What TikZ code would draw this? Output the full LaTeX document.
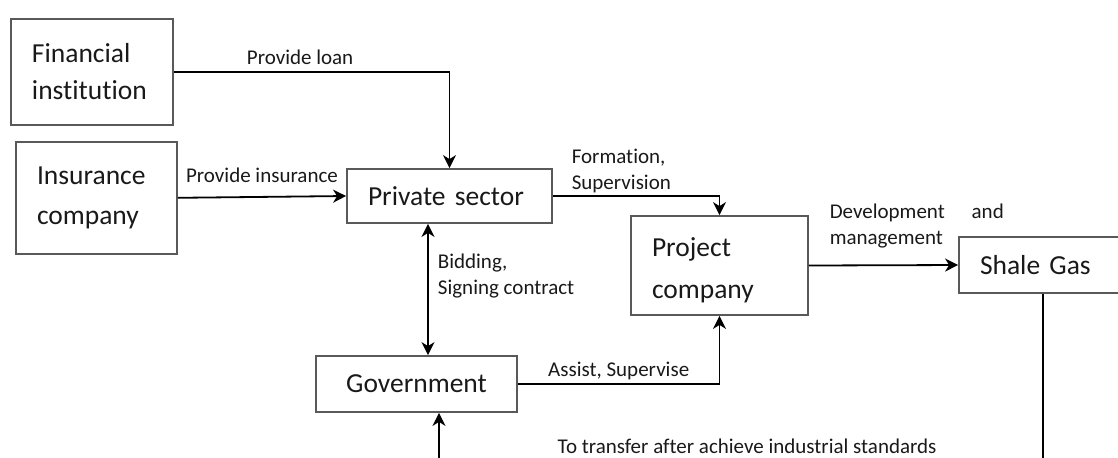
\documentclass[tikz,border=0pt]{standalone}
\usepackage{fontspec}
\setmainfont{Carlito}[Ligatures=NoCommon]
\usepackage{tikz}
\usetikzlibrary{arrows.meta, positioning}

\begin{document}
\begin{tikzpicture}[x=0.5pt, y=-0.5pt,
    box/.style={draw=black!65, line width=0.9pt, align=left, inner ysep=0pt, inner xsep=10.5pt, font=\fontsize{13.75}{18.5}\selectfont, text=black!90},
    lbl/.style={inner sep=0pt, align=left, font=\fontsize{10.5}{13}\selectfont, text=black!90},
    >={Stealth[length=6.5pt, width=6.5pt, inset=2pt]}, line width=0.9pt]
  \useasboundingbox (0,0) rectangle (1118,457);
  \clip (0,0) rectangle (1118,457);
  \node[box, text width=60pt, minimum height=53pt, yshift=-0.5pt] (finance) at (92,71) {Financial\\institution};
  \node[box, text width=59.5pt, minimum height=56pt, font=\fontsize{13.75}{20}\selectfont, below=7.5pt of finance, xshift=2.25pt] (insurance) {Insurance\\company};
  \node[box, text width=81.5pt, minimum height=27pt] (private) at (449.5,196) {Private sector};
  \node[box, text width=79.5pt, minimum height=28pt, align=center] (government) at (416.5,384) {Government};
  \node[box, text width=67.5pt, minimum height=49.5pt, text height=10pt, text depth=18.6pt, font=\fontsize{13.75}{21}\selectfont] (project) at (719.5,265.5) {Project\\company};
  \node[box, text width=63pt, minimum height=28pt] (shale) at (1043,265) {Shale Gas};
  \coordinate (bid) at (428,0);
  \coordinate (turn) at (439,470);
  % who deals with whom
  \draw[->] (finance.east) -| node[lbl, above=3.3pt, pos=0.229] {Provide loan} (private.north);
  \draw[->] (insurance.east) -- node[lbl, above=6.5pt] {Provide insurance} (private.west);
  \draw[->] (private.east) -| node[lbl, anchor=south west, pos=0, xshift=9pt, yshift=1.3pt] {Formation,\\Supervision} (project.north);
  \draw[<->] (private.south -| bid) -- node[lbl, anchor=west, pos=0.4, xshift=4.5pt] {Bidding,\\Signing contract} (government.north -| bid);
  \draw[->] (government.east) -| node[lbl, above=1.5pt, pos=0.25] {Assist, Supervise} (project.south);
  \draw[->] (project.east) -- node[lbl, anchor=south west, pos=0, xshift=10pt, yshift=8.3pt, text width=87pt] {Development\hfill and\\management} (shale.west);
  \draw[->] (shale.south) |- node[lbl, above=7.6pt, pos=0.745] {To transfer after achieve industrial standards} (turn) -- (turn |- government.south);
\end{tikzpicture}
\end{document}
